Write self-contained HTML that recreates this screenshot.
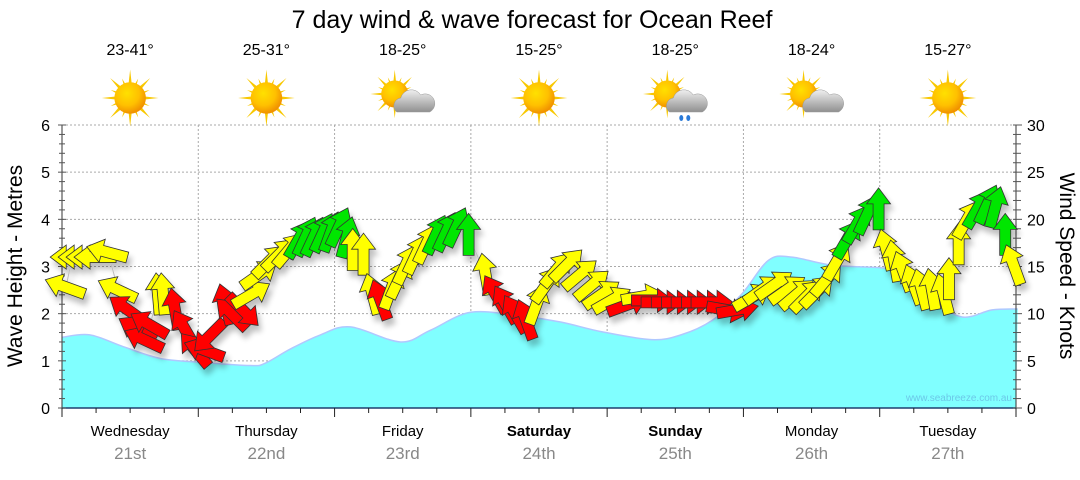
<!DOCTYPE html>
<html><head><meta charset="utf-8"><style>
body{margin:0;background:#fff;width:1080px;height:475px;overflow:hidden;font-family:"Liberation Sans",sans-serif}
</style></head><body>
<svg id="chart" width="1080" height="475" viewBox="0 0 1080 475" xmlns="http://www.w3.org/2000/svg" font-family="Liberation Sans, sans-serif">
<defs>
<radialGradient id="sunG" cx="40%" cy="35%" r="65%"><stop offset="0" stop-color="#ffe000"/><stop offset="0.6" stop-color="#ffc000"/><stop offset="1" stop-color="#f09000"/></radialGradient>
<linearGradient id="cloudG" x1="0" y1="0" x2="0" y2="1"><stop offset="0" stop-color="#f0f0f0"/><stop offset="1" stop-color="#909090"/></linearGradient>
<filter id="shadow" x="-30%" y="-30%" width="160%" height="160%"><feGaussianBlur in="SourceAlpha" stdDeviation="3"/><feOffset dx="3" dy="6"/><feComponentTransfer><feFuncA type="linear" slope="0.25"/></feComponentTransfer><feMerge><feMergeNode/><feMergeNode in="SourceGraphic"/></feMerge></filter>
</defs>
<text x="532" y="28" font-size="25" text-anchor="middle">7 day wind &amp; wave forecast for Ocean Reef</text>
<g id="grid"></g>
<g id="wave"></g>
<g id="axes"></g>
<g id="wind" filter="url(#shadow)"></g>
<g id="icons"></g>
<text transform="translate(22,266) rotate(-90)" font-size="21" text-anchor="middle">Wave Height - Metres</text>
<text transform="translate(1060,266) rotate(90)" font-size="21" text-anchor="middle">Wind Speed - Knots</text>
<text x="1012" y="401" font-size="10" fill="#6cc8e8" text-anchor="end">www.seabreeze.com.au</text>
</svg>
<script>
const days=["Wednesday","Thursday","Friday","Saturday","Sunday","Monday","Tuesday"];
const dates=["21st","22nd","23rd","24th","25th","26th","27th"];
const temps=["23-41°","25-31°","18-25°","15-25°","18-25°","18-24°","15-27°"];
const weather=["sun","sun","cloud","sun","rain","cloud","sun"];
const waveHours=[0,4.9,10.8,17.3,24.4,33.2,35.8,40.2,45.5,50.8,59.6,64.9,72,80.8,87.9,94.9,103.8,109,114.4,119.6,124.4,128.5,135.5,144.4,147.9,153.2,158.5,163.8,168.3];
const waveHeights=[1.5,1.55,1.3,1.05,0.97,0.9,0.95,1.25,1.55,1.72,1.4,1.65,2.03,1.95,1.82,1.62,1.45,1.55,1.85,2.4,3.13,3.2,3.03,2.97,2.88,2.3,1.93,2.08,2.1];
const windHours=[0.7,1.8,3.2,4.6,6.0,8.1,9.9,11.6,13.4,14.6,15.5,16.9,17.8,19.9,21.7,23.5,25.2,26.1,28.8,30.0,31.8,33.2,34.6,36.4,38.1,39.9,41.6,42.9,44.3,45.9,47.3,48.7,50.1,51.2,53.1,54.7,56.1,57.9,59.3,60.5,62.3,64.1,65.8,67.6,69.4,71.6,74.6,76.4,78.2,79.9,81.7,83.5,85.2,87.0,88.8,91.1,93.2,94.9,96.7,99.4,102.0,103.8,105.5,107.3,109.1,110.8,112.6,114.3,117.0,118.8,121.4,123.2,125.3,127.6,129.3,131.1,132.9,134.6,136.4,138.2,139.9,141.7,143.8,145.2,146.6,148.2,150.0,151.4,153.2,155.3,156.2,157.9,159.3,161.1,162.9,164.3,166.1,167.6];
const windKnots=[12.8,16,16,16,16,16.5,12.5,10.4,8.3,7.2,8.8,12,12,10.4,8.3,6.1,6.1,7.7,10.9,9.9,10.4,12,14.1,15.5,16.2,16.7,17.8,18.1,18.1,18.5,18.6,19.1,18,16.7,16.2,12,11.4,12.5,13.6,15.1,16.2,17.3,18.3,18.6,19.1,18.3,14.1,12,10.9,9.9,9.3,10.9,13,14.6,15.1,14.1,13,12,11.4,10.9,11.8,11.4,11.2,11.2,11.2,11.2,11.2,11.2,10.4,10.4,11.7,12.5,13,12.5,12,11.8,12.3,13.6,15.5,17.8,19.4,20.4,21,16.7,15.5,14.4,13,12.5,12.5,12,13.6,17.3,19.9,21,21.5,21.2,18.3,15.1];
const windDir=[290,270,270,270,270,285,295,305,300,295,300,355,355,350,330,320,290,225,345,315,135,60,55,45,45,40,30,25,25,25,20,25,15,0,0,345,340,20,25,25,25,25,25,25,25,0,350,330,330,330,340,20,35,40,45,50,50,55,60,70,80,90,90,90,90,90,90,90,100,80,60,55,55,55,50,45,45,40,30,30,30,25,0,345,350,340,340,345,350,345,0,0,30,30,25,15,0,340];
const windColorRuns=[["Y",7],["R",4],["Y",2],["R",8],["Y",5],["G",7],["Y",3],["R",1],["Y",5],["G",4],["Y",1],["R",4],["Y",8],["R",1],["Y",1],["R",9],["Y",9],["G",4],["Y",10],["G",4],["Y",1]];
const NS="http://www.w3.org/2000/svg";
const windColor=[];windColorRuns.forEach(r=>{for(let i=0;i<r[1];i++)windColor.push(r[0]);});
const X0=62,X1=1016,Y0=408,Y6=125;
const xH=h=>X0+h*(X1-X0)/168;
const yM=m=>Y0-m*(Y0-Y6)/6;
const yK=k=>Y0-k*(Y0-Y6)/30;
function mk(tag,attrs,parent){const e=document.createElementNS(NS,tag);for(const k in attrs)e.setAttribute(k,attrs[k]);parent.appendChild(e);return e;}
const grid=document.getElementById('grid'),axes=document.getElementById('axes'),wave=document.getElementById('wave'),wind=document.getElementById('wind'),icons=document.getElementById('icons');
for(let m=1;m<=6;m++){const l=mk('line',{x1:X0,x2:X1,y1:yM(m),y2:yM(m),stroke:'#aaa','stroke-dasharray':'2,2'},grid);

}
for(let d=1;d<7;d++){const l=mk('line',{x1:xH(d*24),x2:xH(d*24),y1:Y6,y2:Y0,stroke:'#aaa','stroke-dasharray':'2,2'},grid);

}
const pts=waveHours.map((h,i)=>[xH(h),yM(waveHeights[i])]);
let d='M'+pts[0][0]+','+pts[0][1];
for(let i=0;i<pts.length-1;i++){const p0=pts[Math.max(0,i-1)],p1=pts[i],p2=pts[i+1],p3=pts[Math.min(pts.length-1,i+2)];
d+=` C${p1[0]+(p2[0]-p0[0])/6},${p1[1]+(p2[1]-p0[1])/6} ${p2[0]-(p3[0]-p1[0])/6},${p2[1]-(p3[1]-p1[1])/6} ${p2[0]},${p2[1]}`;}
const wa=mk('path',{d:d+` L${X1},${Y0} L${X0},${Y0} Z`,fill:'#80ffff'},wave);


const wl=mk('path',{d:d,fill:'none',stroke:'#b0c8ff','stroke-width':1.5},wave);


mk('line',{x1:X0,x2:X0,y1:Y6,y2:Y0,stroke:'#333'},axes);
mk('line',{x1:X1,x2:X1,y1:Y6,y2:Y0,stroke:'#333'},axes);
mk('line',{x1:X0,x2:X1,y1:Y0,y2:Y0,stroke:'#1f3f6f','stroke-width':1.5},axes);
for(let i=0;i<=30;i++){const y=yM(i/5);const big=i%5==0;
mk('line',{x1:X0-(big?4:3),x2:X0+(big?4:3),y1:y,y2:y,stroke:'#555'},axes);
mk('line',{x1:X1-3,x2:X1+(big?6:5),y1:y,y2:y,stroke:'#555'},axes);}
for(let m=0;m<=6;m++){const t=mk('text',{x:50,y:yM(m)+6,'font-size':16,'text-anchor':'end'},axes);t.textContent=m;

}
for(let k=0;k<=30;k+=5){const t=mk('text',{x:1027,y:yK(k)+6,'font-size':16},axes);t.textContent=k;

}
for(let i=0;i<=28;i++){const x=xH(i*6);mk('line',{x1:x,x2:x,y1:Y0,y2:Y0+(i%4==0?9:5),stroke:'#222'},axes);}
days.forEach((n,i)=>{const cx=xH(i*24+12);
const t=mk('text',{x:cx,y:436,'font-size':15,'text-anchor':'middle','font-weight':(i==3||i==4)?'bold':'normal'},axes);t.textContent=n;


const t2=mk('text',{x:cx,y:459,'font-size':17,'text-anchor':'middle',fill:'#888'},axes);t2.textContent=dates[i];


const t3=mk('text',{x:cx,y:55,'font-size':16,'text-anchor':'middle'},icons);t3.textContent=temps[i];


const g=mk('g',{transform:`translate(${cx},98)`},icons);


const w=weather[i];const sx=w=='sun'?0:-8,sy=w=='sun'?0:-4,sr=w=='sun'?1.05:0.9;
const sg=mk('g',{transform:`translate(${sx},${sy}) scale(${sr})`},g);
for(let a=0;a<16;a++){const L=a%2?20:27;mk('polygon',{points:`-3,0 3,0 0,${-L}`,fill:'#f8c800',transform:`rotate(${a*22.5})`},sg);}
mk('circle',{r:15,fill:'url(#sunG)'},sg);
if(w!='sun'){mk('path',{d:'M-6,14 a8,8 0 0 1 4,-14 a11,11 0 0 1 20,-3 a9,9 0 0 1 9,17 Z',fill:'url(#cloudG)',stroke:'#999','stroke-width':0.5},g);}
if(w=='rain'){mk('ellipse',{cx:6,cy:20,rx:2,ry:3,fill:'#2a7ad8'},g);mk('ellipse',{cx:13,cy:20,rx:2,ry:3,fill:'#2a7ad8'},g);}
});
const lp=windHours.map((h,i)=>xH(h)+','+yK(windKnots[i])).join(' ');
mk('polyline',{points:lp,fill:'none',stroke:'#bbb','stroke-width':1},wind);
const cols={R:'#ff0000',Y:'#ffff00',G:'#00e600'};
windHours.forEach((h,i)=>{
const a=mk('polygon',{points:'0,-22 12,-6 5.5,-6 5.5,20 -5.5,20 -5.5,-6 -12,-6',fill:cols[windColor[i]]||'#ffff00',stroke:'#333','stroke-width':0.8,
transform:`translate(${xH(h)},${yK(windKnots[i])}) rotate(${windDir[i]})`},wind);


});
</script>
</body></html>
